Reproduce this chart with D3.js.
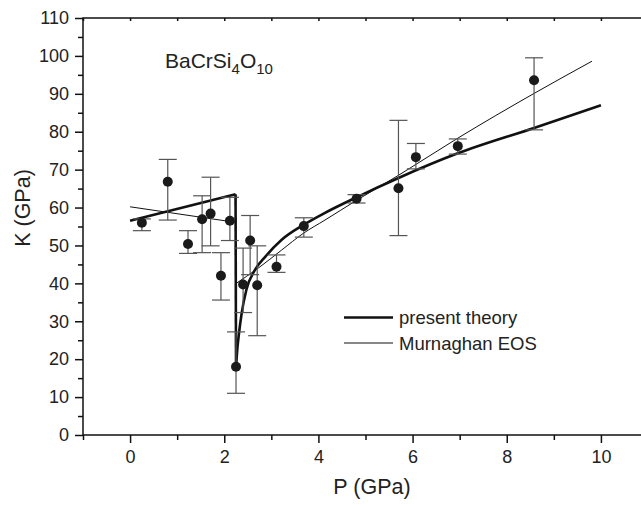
<!DOCTYPE html>
<html>
<head>
<meta charset="utf-8">
<script src="https://cdn.jsdelivr.net/npm/d3@7"></script>
<style>
  body { margin: 0; background: #fff; }
  svg { display: block; }
  text { font-family: "Liberation Sans", Arial, sans-serif; fill: #222; }
</style>
</head>
<body>
<div id="chart"></div>
<script>
// measured points with error bars
const pressure = [0.25, 0.80, 1.23, 1.53, 1.71, 1.93, 2.12, 2.25, 2.40, 2.55, 2.70, 3.11, 3.69, 4.81, 5.70, 6.07, 6.96, 8.58];
const modulus  = [56.0, 66.8, 50.4, 56.9, 58.4, 42.0, 56.5, 18.0, 39.7, 51.3, 39.5, 44.4, 55.1, 62.3, 65.1, 73.3, 76.2, 93.6];
const errHigh  = [57.0, 72.7, 53.9, 63.1, 68.0, 48.1, 62.7, 27.2, 49.3, 57.9, 49.9, 47.5, 57.3, 63.4, 83.0, 76.9, 78.1, 99.5];
const errLow   = [53.9, 56.7, 47.9, 48.1, 49.9, 35.6, 51.3, 11.0, 32.3, 42.3, 26.2, 42.9, 52.2, 61.2, 52.6, 70.2, 74.1, 80.5];

// present theory: low pressure branch, drop, high pressure branch
const theoryLowP  = [0, 2.24];
const theoryLowK  = [56.5, 63.5];
const theoryDropP = [2.24, 2.25];
const theoryDropK = [63.5, 18.0];
const theoryHighP = [2.25, 2.28, 2.31, 2.37, 2.47, 2.65, 2.87, 3.22, 3.68, 4.14, 4.81, 5.70, 6.96, 8.58, 10.0];
const theoryHighK = [18.0, 23.0, 26.5, 32.1, 38.3, 43.5, 47.0, 51.5, 55.4, 58.6, 62.7, 67.8, 74.3, 81.0, 87.0];

// Murnaghan EOS, two branches
const murnLowP  = [0, 2.24];
const murnLowK  = [60.2, 56.1];
const murnHighP = [2.23, 2.72, 3.22, 3.68, 4.14, 4.81, 5.70, 6.96, 8.58, 9.81];
const murnHighK = [39.8, 44.0, 48.8, 53.2, 56.7, 61.9, 68.5, 78.3, 90.1, 98.6];

const xTicks = [0, 2, 4, 6, 8, 10];
const yTicks = [0, 10, 20, 30, 40, 50, 60, 70, 80, 90, 100, 110];
const legendLabels = ["present theory", "Murnaghan EOS"];

const W = 641, H = 505;
const mLeft = 83, mRight = 648, mTop = 18, mBottom = 435;

const svg = d3.select("#chart").append("svg")
    .attr("width", W)
    .attr("height", H);

const x = d3.scaleLinear().domain([-1, 11]).range([mLeft, mRight]);
const y = d3.scaleLinear().domain([0, 110]).range([mBottom, mTop]);

// frame
svg.append("rect")
    .attr("x", mLeft).attr("y", mTop)
    .attr("width", mRight - mLeft).attr("height", mBottom - mTop)
    .attr("fill", "none").attr("stroke", "#111").attr("stroke-width", 1.5);

// bottom axis, majors and minors
svg.append("g").attr("transform", `translate(0,${mBottom})`)
    .call(d3.axisBottom(x).tickValues(xTicks).tickSize(8).tickPadding(7).tickFormat(d3.format("d")));
svg.append("g").attr("transform", `translate(0,${mBottom})`)
    .call(d3.axisBottom(x).tickValues(d3.range(-1, 11, 2)).tickSize(5).tickFormat(""));

// left axis
svg.append("g").attr("transform", `translate(${mLeft},0)`)
    .call(d3.axisLeft(y).tickValues(yTicks).tickSize(8).tickPadding(6));
svg.append("g").attr("transform", `translate(${mLeft},0)`)
    .call(d3.axisLeft(y).tickValues(d3.range(5, 110, 10)).tickSize(5).tickFormat(""));

// top axis ticks pointing inward
svg.append("g").attr("transform", `translate(0,${mTop})`)
    .call(d3.axisBottom(x).tickValues(d3.range(-1, 11)).tickSize(3).tickFormat(""));

svg.selectAll(".domain").remove();
svg.selectAll(".tick line").attr("stroke", "#111").attr("stroke-width", 1.5);
svg.selectAll(".tick text")
    .attr("font-size", 18)
    .attr("fill", "#222")
    .attr("font-family", "Liberation Sans, Arial, sans-serif");

// axis titles
svg.append("text")
    .attr("x", 372).attr("y", 494)
    .attr("text-anchor", "middle")
    .attr("font-size", 21.5)
    .text("P (GPa)");

svg.append("text")
    .attr("transform", "translate(30,208) rotate(-90)")
    .attr("text-anchor", "middle")
    .attr("font-size", 21.5)
    .text("K (GPa)");

// compound label
const title = svg.append("text").attr("x", 165).attr("y", 68).attr("font-size", 21);
title.append("tspan").text("BaCrSi");
title.append("tspan").attr("font-size", 15).attr("dy", 6).text("4");
title.append("tspan").attr("dy", -6).text("O");
title.append("tspan").attr("font-size", 15).attr("dy", 6).text("10");

// lines
const line = d3.line().x(d => x(d[0])).y(d => y(d[1]));
const curve = d3.line().x(d => x(d[0])).y(d => y(d[1])).curve(d3.curveMonotoneX);
const zip = (a, b) => a.map((v, i) => [v, b[i]]);

const plot = svg.append("g");

plot.append("path").datum(zip(murnLowP, murnLowK))
    .attr("d", line).attr("fill", "none").attr("stroke", "#111").attr("stroke-width", 1);
plot.append("path").datum(zip(murnHighP, murnHighK))
    .attr("d", curve).attr("fill", "none").attr("stroke", "#111").attr("stroke-width", 1);

[zip(theoryLowP, theoryLowK), zip(theoryDropP, theoryDropK)].forEach(seg => {
    plot.append("path").datum(seg)
        .attr("d", line).attr("fill", "none").attr("stroke", "#111").attr("stroke-width", 2.6);
});
plot.append("path").datum(zip(theoryHighP, theoryHighK))
    .attr("d", curve).attr("fill", "none").attr("stroke", "#111").attr("stroke-width", 2.6);

// error bars
const pts = pressure.map((p, i) => ({ p, k: modulus[i], hi: errHigh[i], lo: errLow[i] }));
const cap = 9;
const eb = plot.selectAll(".err").data(pts).enter().append("g").attr("class", "err")
    .attr("stroke", "#555").attr("stroke-width", 1.2);
eb.append("line")
    .attr("x1", d => x(d.p)).attr("x2", d => x(d.p))
    .attr("y1", d => y(d.hi)).attr("y2", d => y(d.lo));
eb.append("line")
    .attr("x1", d => x(d.p) - cap).attr("x2", d => x(d.p) + cap)
    .attr("y1", d => y(d.hi)).attr("y2", d => y(d.hi));
eb.append("line")
    .attr("x1", d => x(d.p) - cap).attr("x2", d => x(d.p) + cap)
    .attr("y1", d => y(d.lo)).attr("y2", d => y(d.lo));

plot.selectAll(".dot").data(pts).enter().append("circle")
    .attr("class", "dot")
    .attr("cx", d => x(d.p)).attr("cy", d => y(d.k))
    .attr("r", 5).attr("fill", "#1a1a1a");

// legend
const lg = svg.append("g");
legendLabels.forEach((label, i) => {
    const ly0 = 317.5 + i * 25.5;
    lg.append("line")
        .attr("x1", 344).attr("x2", 393)
        .attr("y1", ly0).attr("y2", ly0)
        .attr("stroke", "#111").attr("stroke-width", i === 0 ? 2.6 : 1);
    lg.append("text")
        .attr("x", 399).attr("y", ly0 + 6.5)
        .attr("font-size", 18.5)
        .text(label);
});
</script>
</body>
</html>
